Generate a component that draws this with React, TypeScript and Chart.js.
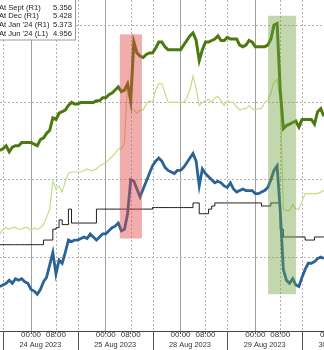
import React, { useEffect, useRef } from 'react';
import { Chart, registerables } from 'chart.js';

Chart.register(...registerables);

// Trading-time x axis, in hours from the 24 Aug session start (one point per hour)
const HOURS: number[] = Array.from({ length: 105 }, (_, i) => i - 1);

// Session separators, 00:00 and 08:00 tick positions (hours)
const DAY_STARTS = [-24, 0, 24, 48, 72, 96, 120];
const OPEN_TICKS = [-15, 9, 33, 57, 81, 105];
const EIGHT_TICKS = [-7, 17, 41, 65, 89, 113];
const TIME_TICKS = [-15, -7, 9, 17, 33, 41, 57, 65, 81, 89, 105, 113];
const TIME_TICK_LABELS = ['00:00', '08:00', '00:00', '08:00', '00:00', '08:00', '00:00', '08:00', '00:00', '08:00', '00:00', '08:00'];
const DATE_CENTERS = [-12, 12, 36, 60, 84, 108];
const DATE_LABELS = ['23 Aug 2023', '24 Aug 2023', '25 Aug 2023', '28 Aug 2023', '29 Aug 2023', '30 Aug 2023'];

// Right-axis gridline values
const R_GRID = [5.3, 5.35, 5.4, 5.45];

// Legend
const LEGEND_NAMES = ['At Sept (R1)', 'At Dec (R1)', "At Jan '24 (R1)", "At Jun '24 (L1)"];
const LEGEND_VALUES = ['5.356', '5.428', '5.373', '4.956'];

// Series (R1)
const DEC = [
  5.369, 5.370, 5.372, 5.368, 5.371, 5.372, 5.372, 5.374, 5.374, 5.374,
  5.374, 5.373, 5.372, 5.376, 5.377, 5.380, 5.382, 5.390, 5.389, 5.393,
  5.394, 5.395, 5.398, 5.400, 5.399, 5.399, 5.400, 5.400, 5.400, 5.400,
  5.400, 5.401, 5.401, 5.403, 5.403, 5.405, 5.406, 5.408, 5.410, 5.407,
  5.408, 5.412, 5.401, 5.439, 5.432, 5.430, 5.429, 5.431, 5.432, 5.432,
  5.435, 5.439, 5.439, 5.436, 5.434, 5.434, 5.434, 5.434, 5.434, 5.437,
  5.440, 5.443, 5.445, 5.440, 5.427, 5.434, 5.439, 5.439, 5.440, 5.441,
  5.443, 5.440, 5.440, 5.442, 5.441, 5.441, 5.441, 5.437, 5.436, 5.437,
  5.440, 5.439, 5.436, 5.436, 5.436, 5.436, 5.437, 5.441, 5.450, 5.451,
  5.408, 5.383, 5.385, 5.386, 5.387, 5.388, 5.384, 5.389, 5.389, 5.389,
  5.389, 5.386, 5.394, 5.396, 5.391,
];

const JAN24 = [
  5.315, 5.318, 5.319, 5.318, 5.319, 5.319, 5.318, 5.318, 5.319, 5.319,
  5.317, 5.319, 5.318, 5.319, 5.321, 5.326, 5.331, 5.349, 5.344, 5.346,
  5.342, 5.349, 5.354, 5.355, 5.355, 5.355, 5.355, 5.356, 5.357, 5.356,
  5.356, 5.357, 5.359, 5.360, 5.361, 5.363, 5.365, 5.367, 5.370, 5.370,
  5.374, 5.413, 5.396, 5.395, 5.393, 5.395, 5.395, 5.399, 5.401, 5.400,
  5.408, 5.412, 5.412, 5.406, 5.400, 5.400, 5.400, 5.400, 5.400, 5.400,
  5.403, 5.408, 5.417, 5.409, 5.398, 5.400, 5.401, 5.402, 5.400, 5.403,
  5.404, 5.401, 5.398, 5.401, 5.400, 5.400, 5.397, 5.395, 5.396, 5.396,
  5.398, 5.396, 5.395, 5.396, 5.396, 5.400, 5.401, 5.406, 5.413, 5.415,
  5.401, 5.331, 5.330, 5.330, 5.334, 5.331, 5.331, 5.336, 5.341, 5.341,
  5.341, 5.341, 5.341, 5.342, 5.343,
];

const SEPT = [
  5.308, 5.308, 5.308, 5.308, 5.308, 5.308, 5.308, 5.308, 5.308, 5.308,
  5.308, 5.308, 5.308, 5.308, 5.311, 5.311, 5.311, 5.318, 5.319, 5.324,
  5.321, 5.321, 5.331, 5.322, 5.322, 5.322, 5.322, 5.322, 5.322, 5.322,
  5.322, 5.331, 5.331, 5.331, 5.331, 5.331, 5.331, 5.331, 5.331, 5.331,
  5.331, 5.331, 5.331, 5.331, 5.331, 5.331, 5.331, 5.331, 5.331, 5.332,
  5.332, 5.332, 5.332, 5.332, 5.332, 5.332, 5.332, 5.332, 5.332, 5.332,
  5.332, 5.332, 5.335, 5.335, 5.328, 5.328, 5.328, 5.331, 5.333, 5.335,
  5.335, 5.335, 5.335, 5.335, 5.335, 5.335, 5.335, 5.335, 5.335, 5.335,
  5.335, 5.335, 5.335, 5.335, 5.333, 5.333, 5.333, 5.335, 5.335, 5.335,
  5.318, 5.313, 5.313, 5.313, 5.313, 5.313, 5.313, 5.313, 5.311, 5.311,
  5.311, 5.313, 5.313, 5.313, 5.313,
];

// Series (L1)
const JUN24 = [
  4.931, 4.932, 4.933, 4.935, 4.933, 4.936, 4.935, 4.936, 4.934, 4.933,
  4.929, 4.928, 4.926, 4.929, 4.934, 4.937, 4.945, 4.953, 4.939, 4.948,
  4.946, 4.953, 4.961, 4.960, 4.961, 4.961, 4.962, 4.963, 4.962, 4.965,
  4.963, 4.961, 4.963, 4.965, 4.965, 4.967, 4.969, 4.970, 4.972, 4.967,
  4.968, 4.978, 5.000, 4.999, 4.994, 4.989, 4.994, 4.999, 5.004, 5.009,
  5.012, 5.014, 5.012, 5.008, 5.006, 5.005, 5.004, 5.006, 5.006, 5.008,
  5.011, 5.014, 5.017, 5.012, 4.996, 5.007, 5.004, 5.002, 5.000, 4.998,
  4.999, 4.998, 4.996, 4.995, 4.998, 4.994, 4.992, 4.993, 4.994, 4.993,
  4.993, 4.993, 4.991, 4.991, 4.992, 4.993, 4.995, 5.000, 5.006, 5.009,
  4.980, 4.942, 4.935, 4.933, 4.936, 4.932, 4.931, 4.937, 4.942, 4.946,
  4.946, 4.947, 4.949, 4.950, 4.949,
];

// Highlight boxes: [x0, x1, y0, y1] in hours / R1 units
const HIGHLIGHT_RED = [37.5, 44.6, 5.312, 5.444];
const HIGHLIGHT_GREEN = [85.1, 94.1, 5.276, 5.456];

const FONT = '"Liberation Sans", Arial, sans-serif';
const CANVAS_W = 444;
const CANVAS_H = 353;
const SHIFT = 60; // canvas left offset (px) beyond the visible window

const X_MIN = (-SHIFT - 3) / 3.115;
const X_MAX = X_MIN + CANVAS_W / 3.115;
const R_MAX = 5.4662;
const R_MIN = 5.2522;
const L_OFFSET = 0.35;

const toXY = (ys: number[]) => ys.map((y, i) => ({ x: HOURS[i], y }));

const bbgPlugin = {
  id: 'bbg',
  beforeDatasetsDraw(chart: any) {
    const { ctx, chartArea, scales } = chart;
    const xs = scales.x;
    ctx.save();
    ctx.strokeStyle = '#b4b4b4';
    ctx.lineWidth = 1;
    ctx.setLineDash([2, 2]);
    [...DAY_STARTS, ...EIGHT_TICKS].forEach((v) => {
      const px = Math.round(xs.getPixelForValue(v)) + 0.5;
      ctx.beginPath();
      ctx.moveTo(px, chartArea.top);
      ctx.lineTo(px, chartArea.bottom);
      ctx.stroke();
    });
    ctx.restore();
  },
  afterDatasetsDraw(chart: any) {
    const { ctx, scales } = chart;
    const xs = scales.x;
    const ys = scales.y;
    const box = (b: number[], color: string) => {
      const x0 = xs.getPixelForValue(b[0]);
      const x1 = xs.getPixelForValue(b[1]);
      const y0 = ys.getPixelForValue(b[3]);
      const y1 = ys.getPixelForValue(b[2]);
      ctx.save();
      ctx.fillStyle = color;
      ctx.fillRect(x0, y0, x1 - x0, y1 - y0);
      ctx.restore();
    };
    box(HIGHLIGHT_RED, 'rgba(225,70,70,0.45)');
    box(HIGHLIGHT_GREEN, 'rgba(110,160,60,0.42)');
  },
  afterDraw(chart: any) {
    const { ctx, chartArea, scales } = chart;
    const xs = scales.x;
    ctx.save();
    ctx.strokeStyle = '#555';
    ctx.lineWidth = 1;
    DAY_STARTS.forEach((v) => {
      const px = Math.round(xs.getPixelForValue(v)) + 0.5;
      ctx.beginPath();
      ctx.moveTo(px, chartArea.bottom);
      ctx.lineTo(px, chart.height);
      ctx.stroke();
    });
    // legend box
    const lx = SHIFT;
    ctx.fillStyle = '#ffffff';
    ctx.fillRect(lx - 4, -2, 80, 42);
    ctx.strokeStyle = '#999';
    ctx.strokeRect(lx - 3.5, -1.5, 79, 41.5);
    ctx.fillStyle = '#222';
    ctx.font = `7.6px ${FONT}`;
    ctx.textBaseline = 'middle';
    LEGEND_NAMES.forEach((name, i) => {
      const y = 7.5 + i * 8.8;
      ctx.textAlign = 'left';
      ctx.fillText(name, lx - 1, y);
      ctx.textAlign = 'right';
      ctx.fillText(LEGEND_VALUES[i], lx + 72, y);
    });
    ctx.restore();
  },
};

export default function App() {
  const ref = useRef<HTMLCanvasElement>(null);
  useEffect(() => {
    const canvas = ref.current;
    if (!canvas) return;
    const chart = new Chart(canvas, {
      type: 'line',
      data: {
        datasets: [
          { label: 'Dec', data: toXY(DEC), yAxisID: 'y', borderColor: '#4c7a10', borderWidth: 3, pointRadius: 0, tension: 0 },
          { label: "Jun '24", data: toXY(JUN24), yAxisID: 'y1', borderColor: '#2a6496', borderWidth: 2.8, pointRadius: 0, tension: 0 },
          { label: 'Sept', data: toXY(SEPT), yAxisID: 'y', borderColor: '#1e1e1e', borderWidth: 1, pointRadius: 0, stepped: true },
          { label: "Jan '24", data: toXY(JAN24), yAxisID: 'y', borderColor: '#c3de88', borderWidth: 1.2, pointRadius: 0, tension: 0 },
        ],
      },
      options: {
        responsive: false,
        animation: false,
        devicePixelRatio: 1,
        layout: { padding: 0 },
        plugins: { legend: { display: false }, tooltip: { enabled: false } },
        scales: {
          x: {
            type: 'linear',
            position: 'bottom',
            min: X_MIN,
            max: X_MAX,
            weight: 0,
            afterBuildTicks: (s: any) => { s.ticks = TIME_TICKS.map((v) => ({ value: v })); },
            afterFit: (s: any) => { s.height = 8; },
            ticks: {
              autoSkip: false,
              maxRotation: 0,
              minRotation: 0,
              padding: -3,
              color: '#333',
              font: { family: FONT, size: 8, lineHeight: 1 },
              callback: (_v: any, i: number) => TIME_TICK_LABELS[i],
            },
            grid: {
              color: (c: any) => (OPEN_TICKS.includes(c.tick?.value) ? '#a0a0a0' : 'rgba(0,0,0,0)'),
              lineWidth: 1,
              drawTicks: true,
              tickLength: 3,
              tickColor: '#666',
            },
            border: { display: true, color: '#444', width: 1 },
          },
          xd: {
            type: 'linear',
            position: 'bottom',
            min: X_MIN,
            max: X_MAX,
            weight: 1,
            afterBuildTicks: (s: any) => { s.ticks = DATE_CENTERS.map((v) => ({ value: v })); },
            afterFit: (s: any) => { s.height = 14; },
            ticks: {
              autoSkip: false,
              maxRotation: 0,
              minRotation: 0,
              padding: 2,
              color: '#333',
              font: { family: FONT, size: 7.4, lineHeight: 1 },
              callback: (_v: any, i: number) => DATE_LABELS[i],
            },
            grid: { display: false, drawTicks: false },
            border: { display: false },
          },
          y: {
            position: 'right',
            min: R_MIN,
            max: R_MAX,
            afterBuildTicks: (s: any) => { s.ticks = R_GRID.map((v) => ({ value: v })); },
            afterFit: (s: any) => { s.width = 0; },
            ticks: { display: false },
            grid: { color: '#b4b4b4', lineWidth: 1, drawTicks: false },
            border: { display: false, dash: [2, 2] },
          },
          y1: {
            position: 'left',
            display: false,
            min: R_MIN - L_OFFSET,
            max: R_MAX - L_OFFSET,
          },
        },
      },
      plugins: [bbgPlugin],
    } as any);
    return () => chart.destroy();
  }, []);

  return (
    <div style={{ position: 'fixed', left: 0, top: 0, width: 324, height: 350, overflow: 'hidden', background: '#fff' }}>
      <canvas
        ref={ref}
        width={CANVAS_W}
        height={CANVAS_H}
        style={{ position: 'absolute', left: -SHIFT, top: 0, width: CANVAS_W, height: CANVAS_H }}
      />
    </div>
  );
}
